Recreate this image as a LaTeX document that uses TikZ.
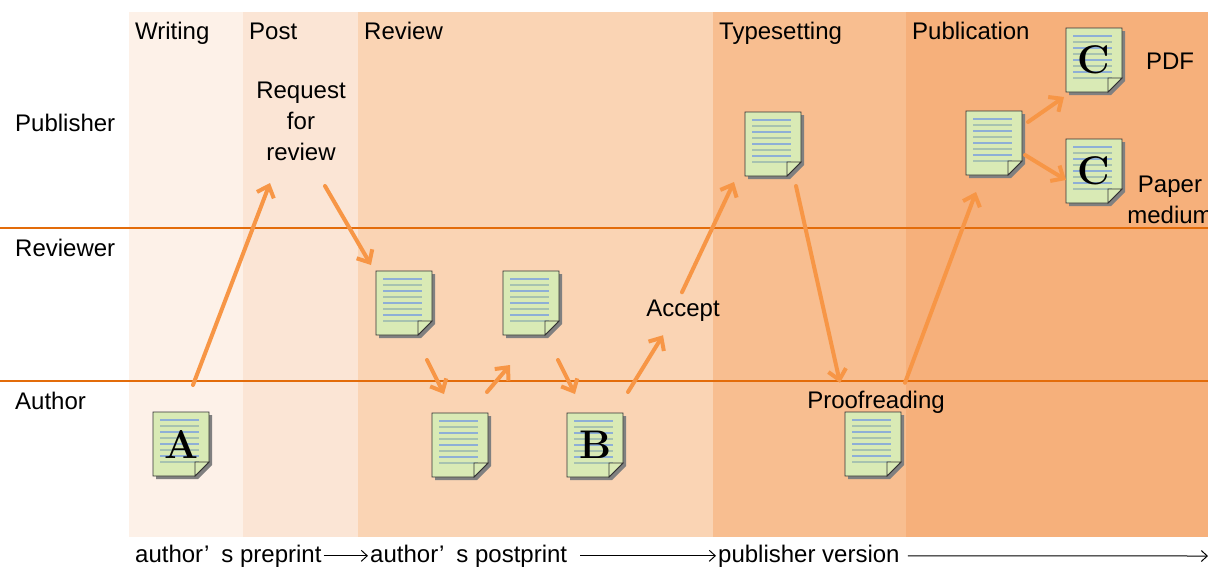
\documentclass[tikz,border=0pt]{standalone}
\usepackage{fontspec}
\setsansfont{Liberation Sans}
\usetikzlibrary{arrows.meta,calc}

\definecolor{writingc}{HTML}{FDF1E8}
\definecolor{postc}{HTML}{FBE5D5}
\definecolor{reviewc}{HTML}{FAD4B4}
\definecolor{typesetc}{HTML}{F8BE90}
\definecolor{publishc}{HTML}{F6B07B}
\definecolor{lanec}{HTML}{E36C0A}
\definecolor{flowc}{HTML}{F79646}
\definecolor{paperc}{HTML}{D9EAB5}
\definecolor{bluelinec}{HTML}{8EAFD6}
\definecolor{greylinec}{HTML}{A7C2B0}

\newcommand\paperletter{\rmfamily\bfseries\fontsize{40}{40}\selectfont}

\begin{document}
\begin{tikzpicture}[x=1pt, y=-1pt,
	remark/.style={font=\sffamily\fontsize{24}{31}\selectfont, inner sep=2pt},
	doc/.style={minimum width=56pt, minimum height=64pt, inner sep=0pt, font=\paperletter},
	flow/.style={draw=flowc, line width=4pt, line cap=round, -{Straight Barb[length=10pt,width=18pt]}},
	version/.style={black, line width=1pt, -{Straight Barb[length=6pt,width=11pt]}}]
	\useasboundingbox (0,0) rectangle (1208,566);
	
	%stage columns
	\foreach \a/\b/\c in {129/243/writingc, 243/358/postc, 358/713/reviewc, 713/906/typesetc, 906/1208/publishc}{
		\fill[\c] (\a,12) rectangle (\b,537);
	}
	
	%lanes
	\foreach \y in {228, 381}{
		\draw[lanec, line width=2pt] (0,\y)--(1208,\y);
	}
	\node[remark, anchor=base west] (publisher) at (13,131){Publisher};
	\node[remark, anchor=base west] (reviewer) at (13,256){Reviewer};
	\node[remark, anchor=base west] (author) at (13,409){Author};
	
	\node[remark, anchor=base west] (writing) at (133,39){Writing};
	\node[remark, anchor=base west] (post) at (247,39){Post};
	\node[remark, anchor=base west] (review) at (362,39){Review};
	\node[remark, anchor=base west] (typesetting) at (717,39){Typesetting};
	\node[remark, anchor=base west] (publication) at (910,39){Publication};
	
	%papers
	\foreach \n/\x/\y/\l in {A/181/444/A, R1/404/303/{}, R2/531/303/{}, rev/460/445/{}, B/595/445/B, T/773/144/{}, P/873/444/{}, pub/994/143/{}, C1/1094/60/C, C2/1094/171/C}{
		\begin{scope}[shift={(\x,\y)}]
			\fill[black!50] (-25,-29) -- (31,-29) -- (31,21) -- (17,35) -- (-25,35) -- cycle;
			\filldraw[fill=paperc, draw=black!80, line width=0.8pt] (-28,-32) -- (28,-32) -- (28,18) -- (14,32) -- (-28,32) -- cycle;
			\foreach \ly in {-24, -12, 0, 12}{
				\draw[bluelinec, line width=1.3pt] (-21,\ly)--(18,\ly);
			}
			\foreach \ly in {-18, -6, 6, 18}{
				\draw[greylinec, line width=1.3pt] (-21,\ly)--(18,\ly);
			}
			\filldraw[fill=paperc, draw=black!80, line width=0.8pt] (14,32) -- (14,18) -- (28,18) -- cycle;
		\end{scope}
		\node[doc] (\n) at (\x,\y){\l};
	}
	
	\node[remark, align=center] (request) at (301,121){Request\\for\\review};
	\node[remark, anchor=base] (accept) at (683,316){Accept};
	\node[remark, anchor=base] (proof) at (876,408){Proofreading};
	\node[remark, anchor=base] (pdf) at (1170,69){PDF};
	\node[remark, align=center] (medium) at (1170,200){Paper\\medium};
	
	%flow of the paper
	\draw[flow] ($(A)+(12,-59)$) -- ($(request)+(-31,62)$);
	\draw[flow] ($(request)+(24,65)$) -- ($(R1)+(-33,-38)$);
	\draw[flow] ($(R1)+(23,57)$) -- ($(rev)+(-16,-51)$);
	\draw[flow] ($(rev)+(27,-53)$) -- ($(R2)+(-21,62)$);
	\draw[flow] ($(R2)+(27,57)$) -- ($(B)+(-20,-51)$);
	\draw[flow] ($(B)+(33,-53)$) -- ($(accept)+(-20,25)$);
	\draw[flow] ($(accept)+(-1,-18)$) -- ($(T)+(-39,38)$);
	\draw[flow] ($(T)+(23,42)$) -- ($(proof)+(-36,-19)$);
	\draw[flow] ($(proof)+(29,-19)$) -- ($(pub)+(-18,49)$);
	\draw[flow] ($(pub)+(34,-21)$) -- ($(C1)+(-30,37)$);
	\draw[flow] ($(pub)+(31,12)$) -- ($(C2)+(-28,9)$);
	
	%versions
	\node[remark, anchor=base west] (preprint) at (133,562){author’\hspace{0.5em}s preprint};
	\node[remark, anchor=base west] (postprint) at (368,562){author’\hspace{0.5em}s postprint};
	\node[remark, anchor=base west] (publisherver) at (716,562){publisher version};
	\coordinate (end) at (1208,556);
	\draw[version] (preprint) -- (postprint);
	\draw[version, shorten <=11pt] (postprint) -- (publisherver);
	\draw[version, shorten <=6pt] (publisherver) -- (end);
\end{tikzpicture}
\end{document}
